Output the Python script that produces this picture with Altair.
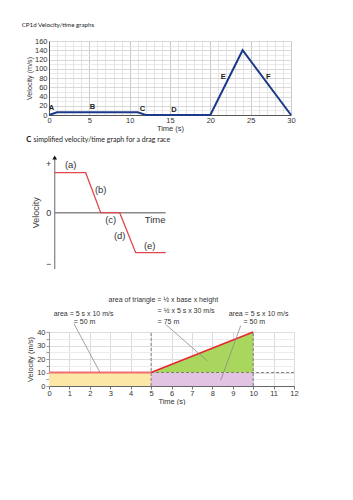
import altair as alt
import pandas as pd

ARIAL = "Liberation Sans"
CAL = "Lato"

# ---------------- Panel 1: velocity/time graph ----------------
page_title = "CP1d Velocity/time graphs"
p1_time = [0, 1, 11, 12, 20, 24, 30]
p1_vel = [0, 6, 6, 0, 0, 140, 0]
p1_label_text = ["A", "B", "C", "D", "E", "F"]
p1_label_t = [0.3, 5.4, 11.6, 15.5, 21.6, 27.2]
p1_label_v = [14.5, 16.6, 13.7, 10, 81.5, 81.5]
p1_x_ticks = list(range(0, 31))
p1_y_ticks = list(range(0, 161, 10))
p1_title_t = [-3.38]
p1_title_v = [201.0]

# ---------------- Panel 2: drag race ----------------
p2_heading_bold = "C"
p2_heading_rest = "simplified velocity/time graph for a drag race"
p2_time = [0, 3.1, 4.6, 6.5, 8.1, 11.1]
p2_vel = [1, 1, 0, 0, -1, -1]
p2_label_text = ["(a)", "(b)", "(c)", "(d)", "(e)"]
p2_label_t = [1.6, 4.6, 5.6, 6.5, 9.5]
p2_label_v = [1.19, 0.57, -0.17, -0.57, -0.83]
p2_sign_text = ["+", "0", "\u2212"]
p2_sign_v = [1.22, 0.0, -1.28]
p2_axis_v = [-1.41, 1.35]
p2_axis_t = [0, 11.1]

# ---------------- Panel 3: areas under graph ----------------
p3_rect_t = [0, 5]
p3_rect_t2 = [5, 10]
p3_rect_v = [0, 0]
p3_rect_v2 = [10, 10]
p3_rect_color = ["#fde7a6", "#e2c3e4"]
p3_tri_t = [5, 10]
p3_tri_v = [10, 40]
p3_tri_base = [10, 10]
p3_lead_t = [1.22, 5.71, 9.39]
p3_lead_v = [46.2, 45.7, 44.7]
p3_lead_t2 = [2.5, 7.76, 8.41]
p3_lead_v2 = [10, 18.5, 4.2]
p3_ann_text = ["area of triangle = \u00bd x base x height", "= \u00bd x 5 s x 30 m/s", "= 75 m",
               "area = 5 s x 10 m/s", "= 50 m", "area = 5 s x 10 m/s", "= 50 m"]
p3_ann_t = [2.92, 5.32, 5.32, 0.23, 1.21, 8.80, 9.53]
p3_ann_v = [64.0, 55.6, 47.4, 53.1, 47.4, 53.1, 47.4]
p3_x_ticks = list(range(0, 13))
p3_y_ticks = list(range(0, 41, 5))

# ====================== Panel 1 ======================
s1x = alt.Scale(domain=[0, 30], nice=False, zero=False)
s1y = alt.Scale(domain=[0, 160], nice=False, zero=False)
ax1x = alt.Axis(values=p1_x_ticks, labelExpr="datum.value % 5 === 0 ? datum.label : ''",
                title="Time (s)", grid=True,
                gridColor={"condition": {"test": "datum.value % 5 === 0", "value": "#bdbdbd"}, "value": "#dedede"},
                gridWidth=0.8, ticks=False, domainColor="#555", domainWidth=1,
                labelFontSize=7.5, titleFontSize=7.5, labelPadding=1.5, titlePadding=0,
                labelFont=ARIAL, titleFont=ARIAL, titleFontWeight="normal",
                labelColor="#333", titleColor="#333", labelFlush=False)
ax1y = alt.Axis(values=p1_y_ticks, labelExpr="datum.value % 20 === 0 ? datum.label : ''",
                title="Velocity (m/s)", grid=True,
                gridColor={"condition": {"test": "datum.value % 20 === 0", "value": "#cfcfcf"}, "value": "#e4e4e4"},
                gridWidth=0.8, ticks=False, domainColor="#555", domainWidth=1,
                labelFontSize=7.5, titleFontSize=7.2, labelPadding=2, titlePadding=1,
                labelFont=ARIAL, titleFont=ARIAL, titleFontWeight="normal",
                labelColor="#333", titleColor="#333", labelFlush=False)

def X1(f="t"):
    return alt.X(f"{f}:Q", scale=s1x, axis=ax1x)

def Y1(f="v"):
    return alt.Y(f"{f}:Q", scale=s1y, axis=ax1y)

d1 = pd.DataFrame({"t": p1_time, "v": p1_vel})
l1 = pd.DataFrame({"t": p1_label_t, "v": p1_label_v, "s": p1_label_text})
tt = pd.DataFrame({"t": p1_title_t, "v": p1_title_v, "s": [page_title]})

p1_line = alt.Chart(d1).mark_line(color="#1c3a8a", strokeWidth=2).encode(x=X1(), y=Y1())
p1_lab = alt.Chart(l1).mark_text(font=ARIAL, fontSize=7.5, fontWeight="bold", color="#222").encode(
    x=X1(), y=Y1(), text="s:N")
p1_tt = alt.Chart(tt).mark_text(font=CAL, fontSize=6.2, align="left", baseline="top", color="#222").encode(
    x=X1(), y=Y1(), text="s:N")
panel1 = alt.layer(p1_line, p1_lab, p1_tt).properties(width=242, height=74)

# ====================== Panel 2 ======================
s2x = alt.Scale(domain=[-0.57, 23.93], nice=False, zero=False)
s2y = alt.Scale(domain=[-2.4825, 1.9425], nice=False, zero=False)

def X2(f="t"):
    return alt.X(f"{f}:Q", scale=s2x, axis=None)

def Y2(f="v"):
    return alt.Y(f"{f}:Q", scale=s2y, axis=None)

axv = pd.DataFrame({"t": [0], "v": [p2_axis_v[0]], "v2": [p2_axis_v[1]]})
axh = pd.DataFrame({"t": [p2_axis_t[0]], "t2": [p2_axis_t[1]], "v": [0]})
arrow = pd.DataFrame({"t": [0], "v": [p2_axis_v[1] + 0.03]})
d2 = pd.DataFrame({"t": p2_time, "v": p2_vel})
l2 = pd.DataFrame({"t": p2_label_t, "v": p2_label_v, "s": p2_label_text})
sg = pd.DataFrame({"t": [-0.35] * 3, "v": p2_sign_v, "s": p2_sign_text})
hb = pd.DataFrame({"t": [-2.85], "v": [1.82], "s": [p2_heading_bold]})
hr = pd.DataFrame({"t": [-2.12], "v": [1.82], "s": [p2_heading_rest]})
vt = pd.DataFrame({"t": [-1.9], "v": [0.0], "s": ["Velocity"]})
tm = pd.DataFrame({"t": [9.0], "v": [-0.18], "s": ["Time"]})

p2_axv = alt.Chart(axv).mark_rule(color="#8a8a8a", strokeWidth=1.3).encode(x=X2(), y=Y2(), y2="v2:Q")
p2_axh = alt.Chart(axh).mark_rule(color="#8a8a8a", strokeWidth=1.5).encode(x=X2(), x2="t2:Q", y=Y2())
p2_arrow = alt.Chart(arrow).mark_point(shape="triangle-up", filled=True, color="#111", size=22, opacity=1).encode(
    x=X2(), y=Y2())
p2_line = alt.Chart(d2).mark_line(color="#e0474c", strokeWidth=1.3).encode(x=X2(), y=Y2())
p2_lab = alt.Chart(l2).mark_text(font=ARIAL, fontSize=9.5, color="#333").encode(x=X2(), y=Y2(), text="s:N")
p2_sg = alt.Chart(sg).mark_text(font=ARIAL, fontSize=9, align="right", color="#333").encode(x=X2(), y=Y2(), text="s:N")
p2_hb = alt.Chart(hb).mark_text(font=CAL, fontSize=7.5, fontWeight="bold", align="left", color="#111").encode(
    x=X2(), y=Y2(), text="s:N")
p2_hr = alt.Chart(hr).mark_text(font=CAL, fontSize=7, align="left", color="#222").encode(
    x=X2(), y=Y2(), text="s:N")
p2_vt = alt.Chart(vt).mark_text(font=ARIAL, fontSize=9, angle=270, color="#444").encode(x=X2(), y=Y2(), text="s:N")
p2_tm = alt.Chart(tm).mark_text(font=ARIAL, fontSize=9.5, align="left", color="#333").encode(x=X2(), y=Y2(), text="s:N")
panel2 = alt.layer(p2_axv, p2_axh, p2_line, p2_arrow, p2_lab, p2_sg, p2_hb, p2_hr, p2_vt, p2_tm).properties(
    width=245, height=177)

# ====================== Panel 3 ======================
s3x = alt.Scale(domain=[0, 12], nice=False, zero=False)
s3y = alt.Scale(domain=[0, 40], nice=False, zero=False)
ax3x = alt.Axis(values=p3_x_ticks, title="Time (s)", grid=True, gridColor="#dcdcdc", gridWidth=1,
                ticks=True, tickSize=3, tickColor="#777", domainColor="#666", domainWidth=1,
                labelFontSize=7.5, titleFontSize=7.5, labelPadding=0, titlePadding=1,
                labelFont=ARIAL, titleFont=ARIAL, titleFontWeight="normal",
                labelColor="#333", titleColor="#333", labelFlush=False)
ax3y = alt.Axis(values=p3_y_ticks, labelExpr="datum.value % 10 === 0 ? datum.label : ''",
                title="Velocity (m/s)", grid=True,
                gridColor={"condition": {"test": "datum.value % 10 === 0", "value": "#dedede"}, "value": "#ececec"},
                gridWidth=1, ticks=True, tickSize=3, tickColor="#999", domainColor="#999", domainWidth=1,
                labelFontSize=7.5, titleFontSize=7.5, labelPadding=1, titlePadding=2,
                labelFont=ARIAL, titleFont=ARIAL, titleFontWeight="normal",
                labelColor="#333", titleColor="#333", labelFlush=False)

def X3(f="t"):
    return alt.X(f"{f}:Q", scale=s3x, axis=ax3x)

def Y3(f="v"):
    return alt.Y(f"{f}:Q", scale=s3y, axis=ax3y)

rects = pd.DataFrame({"t": p3_rect_t, "t2": p3_rect_t2, "v": p3_rect_v, "v2": p3_rect_v2, "c": p3_rect_color})
tri = pd.DataFrame({"t": p3_tri_t, "v": p3_tri_v, "v2": p3_tri_base})
flat = pd.DataFrame({"t": [p3_rect_t[0]], "t2": [p3_rect_t2[0]], "v": [p3_rect_v2[0]]})
slope = pd.DataFrame({"t": p3_tri_t, "v": p3_tri_v})
dv = pd.DataFrame({"t": p3_tri_t, "v": [0, 0], "v2": [p3_tri_v[1], p3_tri_v[1]]})
dh = pd.DataFrame({"t": [p3_tri_t[0]], "t2": [12], "v": [p3_tri_base[0]]})
lead = pd.DataFrame({"t": p3_lead_t, "v": p3_lead_v, "t2": p3_lead_t2, "v2": p3_lead_v2})
ann = pd.DataFrame({"t": p3_ann_t, "v": p3_ann_v, "s": p3_ann_text})

p3_rect = alt.Chart(rects).mark_rect(opacity=1).encode(
    x=X3(), x2="t2:Q", y=Y3(), y2="v2:Q", color=alt.Color("c:N", scale=None))
p3_tri = alt.Chart(tri).mark_area(color="#a9d75e", opacity=1).encode(x=X3(), y=Y3(), y2="v2:Q")
p3_dv = alt.Chart(dv).mark_rule(color="#666", strokeWidth=0.8, strokeDash=[3, 2]).encode(x=X3(), y=Y3(), y2="v2:Q")
p3_dh = alt.Chart(dh).mark_rule(color="#666", strokeWidth=0.8, strokeDash=[3, 2]).encode(x=X3(), x2="t2:Q", y=Y3())
p3_flat = alt.Chart(flat).mark_rule(color="#ef6f72", strokeWidth=2.2).encode(x=X3(), x2="t2:Q", y=Y3())
p3_slope = alt.Chart(slope).mark_line(color="#e8262f", strokeWidth=1.6).encode(x=X3(), y=Y3())
p3_lead = alt.Chart(lead).mark_rule(color="#8a8a8a", strokeWidth=0.8).encode(x=X3(), y=Y3(), x2="t2:Q", y2="v2:Q")
p3_ann = alt.Chart(ann).mark_text(font=ARIAL, fontSize=7, align="left", color="#333").encode(
    x=X3(), y=Y3(), text="s:N")
panel3 = alt.layer(p3_rect, p3_tri, p3_dv, p3_dh, p3_flat, p3_slope, p3_lead, p3_ann).properties(
    width=245, height=54)

chart = alt.vconcat(panel1, panel2, panel3, spacing=20, bounds="flush").properties(
    padding={"left": 21, "top": 22, "right": 0, "bottom": 0}, background="white"
).configure_view(strokeWidth=0)

chart.save("out.html", embed_options={"renderer": "svg", "actions": False})
